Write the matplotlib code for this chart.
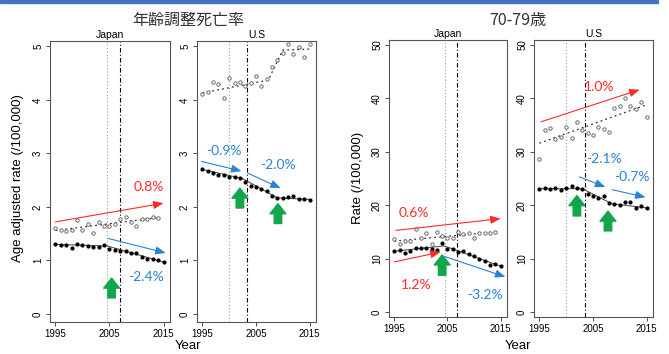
import matplotlib.pyplot as plt
from matplotlib.patches import Rectangle

plt.rcParams['font.family'] = ['Liberation Sans', 'Noto Sans CJK JP']

RED = '#ff2a2a'
BLUE = '#2a82d2'
GREEN = '#10a64c'

years = list(range(1995, 2016))
years_open = list(range(1995, 2015))

# age adjusted rate (/100,000)
jp_adj_open = [1.60, 1.57, 1.55, 1.56, 1.76, 1.57, 1.68, 1.52, 1.72, 1.65,
               1.64, 1.68, 1.78, 1.81, 1.71, 1.64, 1.78, 1.78, 1.81, 1.80]
jp_adj_filled = [1.30, 1.29, 1.28, 1.24, 1.30, 1.28, 1.27, 1.26, 1.25, 1.28, 1.22,
                 1.19, 1.18, 1.17, 1.14, 1.13, 1.07, 1.03, 1.02, 1.00, 0.97]
us_adj_open = [4.11, 4.15, 4.34, 4.30, 4.03, 4.41, 4.31, 4.33, 4.25, 4.31, 4.44,
               4.26, 4.39, 4.62, 4.74, 4.87, 5.04, 4.85, 4.99, 4.80, 5.04]
us_adj_filled = [2.70, 2.67, 2.63, 2.59, 2.59, 2.56, 2.55, 2.54, 2.47, 2.39, 2.38,
                 2.33, 2.29, 2.20, 2.17, 2.17, 2.19, 2.20, 2.14, 2.14, 2.13]

# 70-79 rate (/100,000)
jp_7079_open = [13.6, 12.7, 13.4, 13.3, 15.6, 13.8, 14.9, 12.7, 15.0, 14.3,
                13.9, 13.9, 15.0, 14.6, 14.9, 13.9, 14.9, 14.9, 14.9, 15.0]
jp_7079_filled = [11.5, 11.6, 11.0, 11.4, 12.0, 12.0, 12.0, 11.9, 11.7, 13.0, 11.9,
                  11.8, 11.2, 11.4, 10.9, 10.6, 10.0, 9.5, 8.9, 9.1, 8.6]
us_7079_open = [28.6, 34.1, 34.5, 32.4, 32.8, 34.6, 32.5, 35.6, 34.1, 33.6, 33.2,
                34.6, 34.3, 33.7, 38.2, 38.6, 40.1, 38.6, 38.0, 39.3, 36.5]
us_7079_filled = [23.1, 23.3, 23.0, 23.3, 22.8, 23.3, 23.6, 23.3, 23.1, 22.1, 21.8,
                  21.3, 21.8, 20.4, 20.3, 20.1, 20.6, 20.6, 19.5, 19.9, 19.5]

# joinpoint fits: (knot years, knot values)
jp_adj_fit_open = ([1995, 2014], [1.56, 1.80])
jp_adj_fit_filled = ([1995, 2004.6, 2015], [1.30, 1.27, 0.97])
us_adj_fit_open = ([1995, 2007.3, 2010, 2015], [4.13, 4.37, 4.93, 4.95])
us_adj_fit_filled = ([1995, 2002.5, 2009, 2015], [2.70, 2.53, 2.17, 2.14])
jp_7079_fit_open = ([1995, 2014], [13.3, 15.0])
jp_7079_fit_filled = ([1995, 2004.4, 2015], [11.4, 12.4, 8.6])
us_7079_fit_open = ([1995, 2015], [31.6, 38.8])
us_7079_fit_filled = ([1995, 2003, 2008.5, 2015], [23.1, 23.1, 20.3, 19.5])

# reference years (dotted, dot-dash)
jp_adj_vlines = (2004.6, 2006.9)
us_adj_vlines = (2000.0, 2003.3)
jp_7079_vlines = (2004.5, 2006.8)
us_7079_vlines = (2000.0, 2003.5)

# trend arrows: (start, end, colour)
jp_adj_trends = [((1995, 1.72), (2015, 2.07), RED),
                 ((2004.8, 1.41), (2015.4, 1.14), BLUE)]
us_adj_trends = [((1994.8, 2.85), (2002.3, 2.67), BLUE),
                 ((2003.5, 2.63), (2009.6, 2.35), BLUE)]
jp_7079_trends = [((1995.3, 15.3), (2015, 17.5), RED),
                  ((1995, 9.4), (2003.7, 11.25), RED),
                  ((2004.5, 10.4), (2015.9, 6.6), BLUE)]
us_7079_trends = [((1995.3, 35.6), (2013.7, 41.6), RED),
                  ((2002.5, 25.3), (2007.3, 23.4), BLUE),
                  ((2008.6, 22.9), (2014.8, 21.5), BLUE)]

# annual percent change labels
jp_adj_apc = [('0.8%', 2012.2, 2.37, RED), ('-2.4%', 2011.7, 0.70, BLUE)]
us_adj_apc = [('-0.9%', 1999.1, 3.04, BLUE), ('-2.0%', 2009.1, 2.79, BLUE)]
jp_7079_apc = [('0.6%', 1998.7, 18.6, RED), ('1.2%', 1999.1, 5.0, RED),
               ('-3.2%', 2012.0, 3.3, BLUE)]
us_7079_apc = [('1.0%', 2006.2, 42.2, RED), ('-2.1%', 2007.0, 28.6, BLUE),
               ('-0.7%', 2012.2, 25.3, BLUE)]

# green markers: (year, bottom, top)
jp_adj_marks = [(2005.4, 0.30, 0.67)]
us_adj_marks = [(2002.0, 1.98, 2.35), (2009.1, 1.69, 2.06)]
jp_7079_marks = [(2004.0, 6.9, 10.7)]
us_7079_marks = [(2002.0, 18.0, 21.8), (2007.8, 15.2, 18.9)]


def draw_panel(ax, title, yr_open, open_vals, filled_vals, fit_open, fit_filled,
               vlines, trends, apc, marks, ylim, yticks):
    ax.set_xlim(1994.0, 2016.2)
    ax.set_ylim(*ylim)
    ax.axvline(vlines[0], color='#999999', lw=0.8, ls=(0, (1, 2)))
    ax.axvline(vlines[1], color='black', lw=0.8, ls=(0, (4, 2, 1, 2)))

    ax.plot(fit_open[0], fit_open[1], color='#333333', lw=0.9, ls=(0, (1.5, 2.5)))
    ax.plot(fit_filled[0], fit_filled[1], color='#555555', lw=0.8)
    ax.scatter(yr_open, open_vals, s=6, facecolors='white', edgecolors='#555555',
               linewidths=0.6, zorder=3)
    ax.scatter(years, filled_vals, s=4, color='black', zorder=3)

    for start, end, c in trends:
        ax.annotate('', xy=end, xytext=start,
                    arrowprops=dict(arrowstyle='-|>,head_length=0.55,head_width=0.22',
                                    color=c, lw=0.8, shrinkA=0, shrinkB=0,
                                    mutation_scale=11))
    for txt, x, y, c in apc:
        ax.text(x, y, txt, color=c, fontsize=10, ha='center', va='center',
                family=['Lato', 'DejaVu Sans'])
    for x, y0, y1 in marks:
        ax.annotate('', xy=(x, y1), xytext=(x, y0),
                    arrowprops=dict(arrowstyle='simple,head_length=0.6,head_width=0.95,tail_width=0.45',
                                    color=GREEN, shrinkA=0, shrinkB=0, mutation_scale=12))

    ax.set_xticks([1995, 2005, 2015])
    ax.set_yticks(yticks)
    ax.tick_params(labelsize=7, length=3, width=0.6, pad=2, color='#333333')
    ax.tick_params(axis='y', labelrotation=90)
    for lab in ax.get_yticklabels():
        lab.set_va('center')
    for sp in ax.spines.values():
        sp.set_color('#555555')
        sp.set_linewidth(0.8)
    ax.set_title(title, fontsize=7.5, pad=2)


fig = plt.figure(figsize=(6.69, 3.54), dpi=100)
fig.patches.append(Rectangle((0, 351 / 354), 658 / 669, 3 / 354, color='#4472c4',
                             transform=fig.transFigure, figure=fig))

ax1 = fig.add_axes([50 / 669, 32 / 354, 120 / 669, 281 / 354])
ax2 = fig.add_axes([197 / 669, 32 / 354, 119 / 669, 281 / 354])
ax3 = fig.add_axes([389 / 669, 37 / 354, 118 / 669, 277 / 354])
ax4 = fig.add_axes([534 / 669, 37 / 354, 119 / 669, 277 / 354])

draw_panel(ax1, 'Japan', years_open, jp_adj_open, jp_adj_filled, jp_adj_fit_open,
           jp_adj_fit_filled, jp_adj_vlines, jp_adj_trends, jp_adj_apc, jp_adj_marks,
           (-0.15, 5.1), range(0, 6))
draw_panel(ax2, 'U.S', years, us_adj_open, us_adj_filled, us_adj_fit_open,
           us_adj_fit_filled, us_adj_vlines, us_adj_trends, us_adj_apc, us_adj_marks,
           (-0.15, 5.1), range(0, 6))
draw_panel(ax3, 'Japan', years_open, jp_7079_open, jp_7079_filled, jp_7079_fit_open,
           jp_7079_fit_filled, jp_7079_vlines, jp_7079_trends, jp_7079_apc, jp_7079_marks,
           (-0.9, 50.9), range(0, 60, 10))
draw_panel(ax4, 'U.S', years, us_7079_open, us_7079_filled, us_7079_fit_open,
           us_7079_fit_filled, us_7079_vlines, us_7079_trends, us_7079_apc, us_7079_marks,
           (-0.9, 50.9), range(0, 60, 10))

fig.text(188 / 669, 1 - 20 / 354, '年齢調整死亡率', fontsize=11.5, color='#333333',
         ha='center', va='center', family=['Noto Sans CJK JP'])
fig.text(518 / 669, 1 - 20 / 354, '70-79歳', fontsize=11.5, color='#333333',
         ha='center', va='center', family=['Noto Sans CJK JP'])
fig.text(18 / 669, 1 - 178 / 354, 'Age adjusted rate (/100,000)', fontsize=9.5,
         rotation=90, ha='center', va='center')
fig.text(358 / 669, 1 - 178 / 354, 'Rate (/100,000)', fontsize=9.5,
         rotation=90, ha='center', va='center')
fig.text(188 / 669, 1 - 346 / 354, 'Year', fontsize=9.5, ha='center', va='center')
fig.text(518 / 669, 1 - 346 / 354, 'Year', fontsize=9.5, ha='center', va='center')

fig.savefig('out.png', dpi=100)
